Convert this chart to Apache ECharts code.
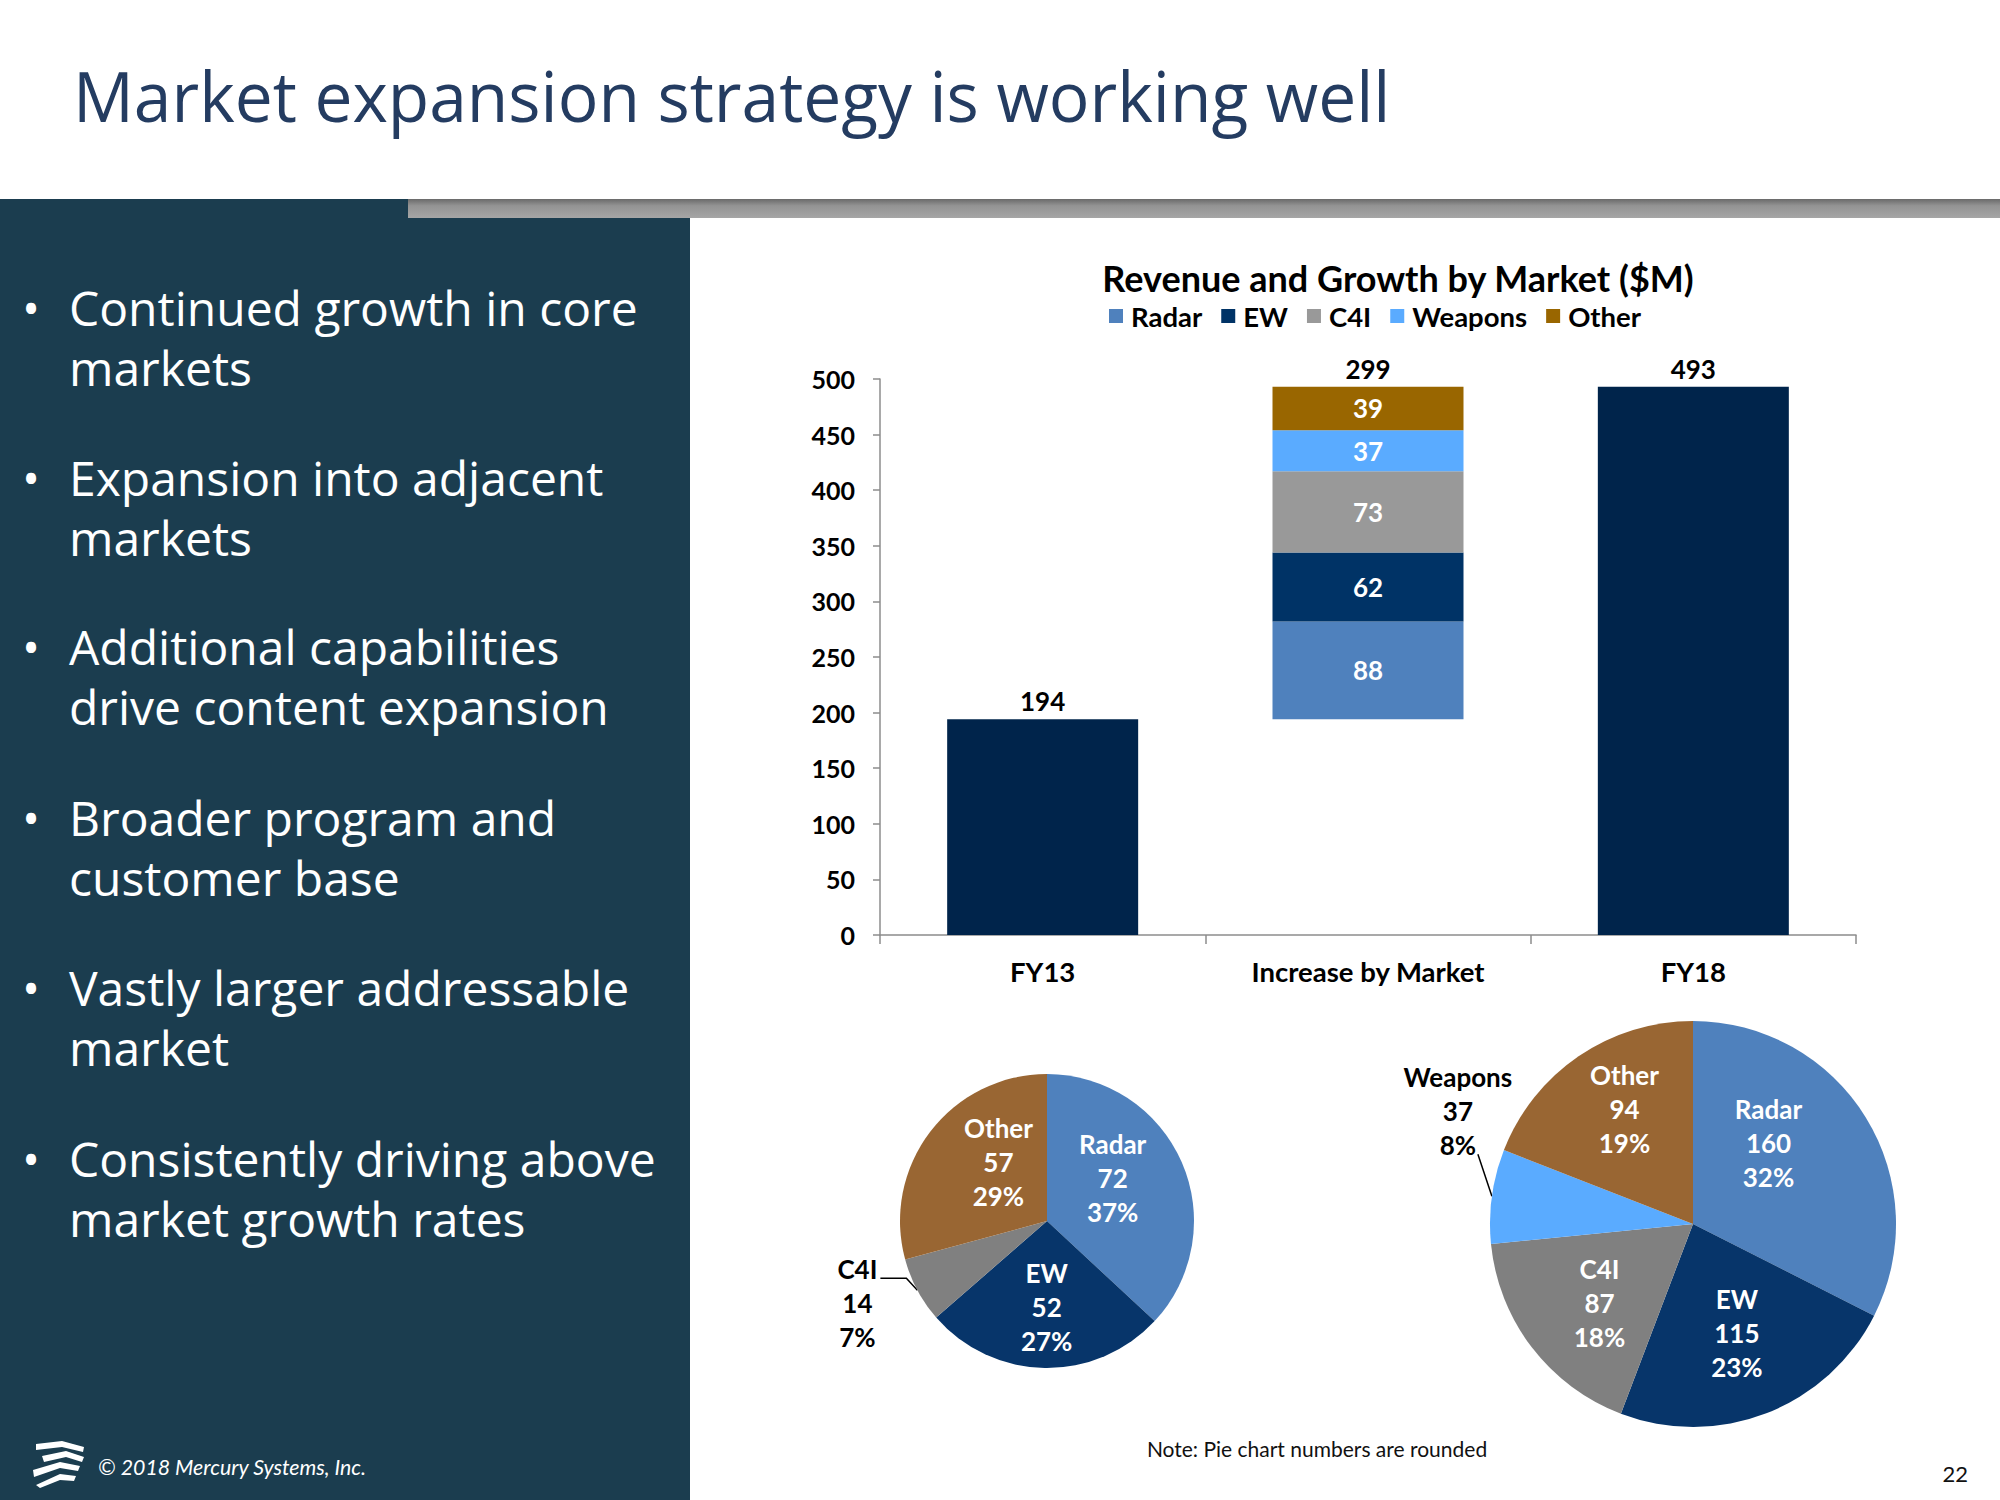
<!DOCTYPE html>
<html>
<head>
<meta charset="utf-8">
<script src="https://cdn.jsdelivr.net/npm/echarts@6/dist/echarts.min.js"></script>
<style>
html,body{margin:0;padding:0;background:#fff;}
#c{width:2000px;height:1500px;}
</style>
</head>
<body>
<div id="c"></div>
<script>
// ---------- DATA ----------
const slideTitle = 'Market expansion strategy is working well';
const bullets = [
  'Continued growth in core\nmarkets',
  'Expansion into adjacent\nmarkets',
  'Additional capabilities\ndrive content expansion',
  'Broader program and\ncustomer base',
  'Vastly larger addressable\nmarket',
  'Consistently driving above\nmarket growth rates'
];
const chartTitle = 'Revenue and Growth by Market ($M)';
const barCategories = ['FY13', 'Increase by Market', 'FY18'];
const markets = ['Radar', 'EW', 'C4I', 'Weapons', 'Other'];
const fy13Total = 194;
const fy18Total = 493;
const increaseByMarket = [88, 62, 73, 37, 39];
const yTicks = { min: 0, max: 500, interval: 50 };
const fy13PieNames = ['Radar', 'EW', 'C4I', 'Other'];
const fy13PieValues = [72, 52, 14, 57];
const fy18PieNames = ['Radar', 'EW', 'C4I', 'Weapons', 'Other'];
const fy18PieValues = [160, 115, 87, 37, 94];
const noteText = 'Note: Pie chart numbers are rounded';
const footerText = '\u00A9 2018 Mercury Systems, Inc.';
const pageNumber = '22';

// ---------- STYLE ----------
const barColors = { Radar: '#4f81bd', EW: '#003366', C4I: '#999999', Weapons: '#5aabff', Other: '#996600' };
const pieColors = { Radar: '#4f81bd', EW: '#07356a', C4I: '#808080', Weapons: '#5aabff', Other: '#996633' };
const totalColor = '#00244b';
const panelColor = '#1b3d4f';
const chartFont = 'Lato, "Noto Sans", sans-serif';
const slideFont = '"Open Sans", "Noto Sans", sans-serif';
// small label nudges (px) for the inside pie labels, by slice name
const leftLabelNudge = { Radar: [-10, -10], EW: [1, 4], Other: [17, -9] };
const rightLabelNudge = { Radar: [-28, -17], EW: [0, -4], C4I: [3, 5], Other: [0, -15] };

const chart = echarts.init(document.getElementById('c'), null, { renderer: 'svg' });

// ---------- GRAPHICS (slide frame) ----------
const graphics = [
  { type: 'rect', z: 0, shape: { x: 0, y: 199, width: 408, height: 1301 }, style: { fill: panelColor } },
  { type: 'rect', z: 0, shape: { x: 408, y: 218, width: 282, height: 1282 }, style: { fill: panelColor } },
  { type: 'rect', z: 0, shape: { x: 408, y: 199, width: 1592, height: 19 },
    style: { fill: new echarts.graphic.LinearGradient(0, 0, 0, 1, [
      { offset: 0, color: '#6a6a6a' }, { offset: 0.35, color: '#939393' }, { offset: 1, color: '#a6a6a6' }]) } },
  { type: 'text', x: 73, y: 95, scaleX: 0.967, style: { text: slideTitle, fontFamily: slideFont, fontSize: 70, fill: '#243c61', verticalAlign: 'middle', align: 'left' } },
  { type: 'text', x: 1317, y: 1448, style: { text: noteText, fontFamily: chartFont, fontSize: 21, fill: '#111', align: 'center', verticalAlign: 'middle' } },
  { type: 'text', x: 98, y: 1467, style: { text: footerText, fontFamily: chartFont, fontStyle: 'italic', fontSize: 21.3, fill: '#fff', align: 'left', verticalAlign: 'middle' } },
  { type: 'text', x: 1968, y: 1473, style: { text: pageNumber, fontFamily: chartFont, fontSize: 22, fill: '#111', align: 'right', verticalAlign: 'middle' } },
  // logo stripes
  { type: 'polygon', shape: { points: [[36,1444],[62,1441],[84,1447],[83,1452],[62,1447],[36,1450]] }, style: { fill: '#fff' } },
  { type: 'polygon', shape: { points: [[42,1456],[66,1451],[84,1457],[82,1462],[66,1457],[44,1462]] }, style: { fill: '#fff' } },
  { type: 'polygon', shape: { points: [[33,1470],[60,1462],[80,1466],[78,1471],[60,1468],[34,1477]] }, style: { fill: '#fff' } },
  { type: 'polygon', shape: { points: [[36,1485],[60,1474],[76,1476],[74,1481],[60,1480],[40,1488]] }, style: { fill: '#fff' } }
];
const bulletTops = [277, 447, 616, 787, 957, 1128];
bullets.forEach(function (b, i) {
  graphics.push({ type: 'text', x: 22, y: bulletTops[i], style: { text: '\u2022', fontFamily: slideFont, fontSize: 48, lineHeight: 60, fill: '#fff', verticalAlign: 'top' } });
  graphics.push({ type: 'text', x: 69, y: bulletTops[i], style: { text: b, fontFamily: slideFont, fontSize: 48, lineHeight: 60, fill: '#fff', verticalAlign: 'top' } });
});

// ---------- BAR SERIES ----------
const valueLabel = { show: true, position: 'top', distance: 5, color: '#000', fontFamily: chartFont, fontWeight: 'bold', fontSize: 26 };
const barSeries = [
  { name: 'Total', type: 'bar', stack: 'w', barWidth: 191, data: [fy13Total, '-', fy18Total],
    itemStyle: { color: totalColor }, label: valueLabel, emphasis: { disabled: true } },
  { name: 'base', type: 'bar', stack: 'w', data: ['-', fy13Total, '-'], itemStyle: { color: 'rgba(0,0,0,0)' }, silent: true, emphasis: { disabled: true } }
];
markets.forEach(function (m, i) {
  barSeries.push({ name: m, type: 'bar', stack: 'w', data: ['-', increaseByMarket[i], '-'],
    itemStyle: { color: barColors[m] }, emphasis: { disabled: true },
    label: { show: true, position: 'inside', color: '#fff', fontFamily: chartFont, fontWeight: 'bold', fontSize: 26 } });
});
const increaseSum = increaseByMarket.reduce(function (a, b) { return a + b; }, 0);
barSeries.push({ name: 'sum', type: 'bar', stack: 'w', data: ['-', 0, '-'], itemStyle: { color: 'rgba(0,0,0,0)' }, silent: true,
  label: Object.assign({}, valueLabel, { formatter: function () { return String(increaseSum); } }) });

// ---------- PIE SERIES ----------
const pieInsideLabel = { show: true, position: 'inside', formatter: '{b}\n{c}\n{d}%', color: '#fff', fontFamily: chartFont, fontWeight: 'bold', fontSize: 26, lineHeight: 34 };
const pieOutsideLabel = { show: true, position: 'outside', formatter: '{b}\n{c}\n{d}%', color: '#000', fontFamily: chartFont, fontWeight: 'bold', fontSize: 26, lineHeight: 34 };
const outsideLine = { show: true, length: 12, length2: 20, lineStyle: { color: '#000', width: 1.5 } };

function pieData(names, values, outsideName, forOverlay) {
  return names.map(function (n, i) {
    const isOut = n === outsideName;
    const item = { name: n, value: values[i], itemStyle: { color: forOverlay ? 'rgba(0,0,0,0)' : pieColors[n] } };
    if (forOverlay) {
      item.label = isOut ? { show: false } : pieInsideLabel;
      item.labelLine = { show: false };
    } else {
      item.label = isOut ? pieOutsideLabel : { show: false };
      item.labelLine = isOut ? outsideLine : { show: false };
    }
    return item;
  });
}
function nudge(names, table) {
  return function (p) {
    const d = table[names[p.dataIndex]];
    return d ? { dx: d[0], dy: d[1] } : {};
  };
}

const leftCenter = [1047, 1221], leftR = 147;
const rightCenter = [1693, 1224], rightR = 203;

const pieSeries = [
  { name: 'FY13 mix', type: 'pie', center: leftCenter, radius: [0, leftR], startAngle: 90, clockwise: true,
    percentPrecision: 0, avoidLabelOverlap: false, emphasis: { disabled: true }, silent: true,
    data: pieData(fy13PieNames, fy13PieValues, 'C4I', false),
    labelLayout: function (p) {
      if (fy13PieNames[p.dataIndex] !== 'C4I' || !p.labelLinePoints) return {};
      const a = p.labelLinePoints[0];
      const b = [a[0] - 11, a[1] - 12];
      const c = [a[0] - 37, a[1] - 12];
      return { x: a[0] - 60, y: a[1] + 13, align: 'center', verticalAlign: 'middle', labelLinePoints: [a, b, c] };
    } },
  { name: 'FY13 labels', type: 'pie', center: leftCenter, radius: [12, leftR], startAngle: 90, clockwise: true, z: 5,
    percentPrecision: 0, avoidLabelOverlap: false, emphasis: { disabled: true }, silent: true,
    data: pieData(fy13PieNames, fy13PieValues, 'C4I', true),
    labelLayout: nudge(fy13PieNames, leftLabelNudge) },
  { name: 'FY18 mix', type: 'pie', center: rightCenter, radius: [0, rightR], startAngle: 90, clockwise: true,
    percentPrecision: 0, avoidLabelOverlap: false, emphasis: { disabled: true }, silent: true,
    data: pieData(fy18PieNames, fy18PieValues, 'Weapons', false),
    labelLayout: function (p) {
      if (fy18PieNames[p.dataIndex] !== 'Weapons' || !p.labelLinePoints) return {};
      const a = p.labelLinePoints[0];
      const b = [a[0] - 14, a[1] - 42];
      return { x: b[0] - 20, y: b[1] - 43, align: 'center', verticalAlign: 'middle', labelLinePoints: [a, b] };
    } },
  { name: 'FY18 labels', type: 'pie', center: rightCenter, radius: [34, rightR], startAngle: 90, clockwise: true, z: 5,
    percentPrecision: 0, avoidLabelOverlap: false, emphasis: { disabled: true }, silent: true,
    data: pieData(fy18PieNames, fy18PieValues, 'Weapons', true),
    labelLayout: nudge(fy18PieNames, rightLabelNudge) }
];

const option = {
  animation: false,
  backgroundColor: '#ffffff',
  title: { text: chartTitle, left: 1393, top: 255, textAlign: 'center',
    textStyle: { fontFamily: chartFont, fontWeight: 'bold', fontSize: 36, color: '#000' } },
  legend: { data: markets, left: 1104, top: 297, icon: 'rect', itemWidth: 14, itemHeight: 14, itemGap: 19,
    textStyle: { fontFamily: chartFont, fontWeight: 'bold', fontSize: 27.5, color: '#000', padding: [0, 0, 0, 3] } },
  grid: { left: 880, top: 379, width: 976, height: 556, containLabel: false },
  xAxis: { type: 'category', data: barCategories,
    axisLine: { lineStyle: { color: '#8c8c8c', width: 1.5 } },
    axisTick: { show: true, length: 9, lineStyle: { color: '#8c8c8c', width: 1.5 } },
    axisLabel: { margin: 22, color: '#000', fontFamily: chartFont, fontWeight: 'bold', fontSize: 27.5 } },
  yAxis: { type: 'value', min: yTicks.min, max: yTicks.max, interval: yTicks.interval,
    splitLine: { show: false },
    axisLine: { show: true, lineStyle: { color: '#8c8c8c', width: 1.5 } },
    axisTick: { show: true, length: 7, lineStyle: { color: '#8c8c8c', width: 1.5 } },
    axisLabel: { margin: 25, color: '#000', fontFamily: chartFont, fontWeight: 'bold', fontSize: 25 } },
  graphic: graphics,
  series: barSeries.concat(pieSeries)
};
chart.setOption(option);
</script>
</body>
</html>
